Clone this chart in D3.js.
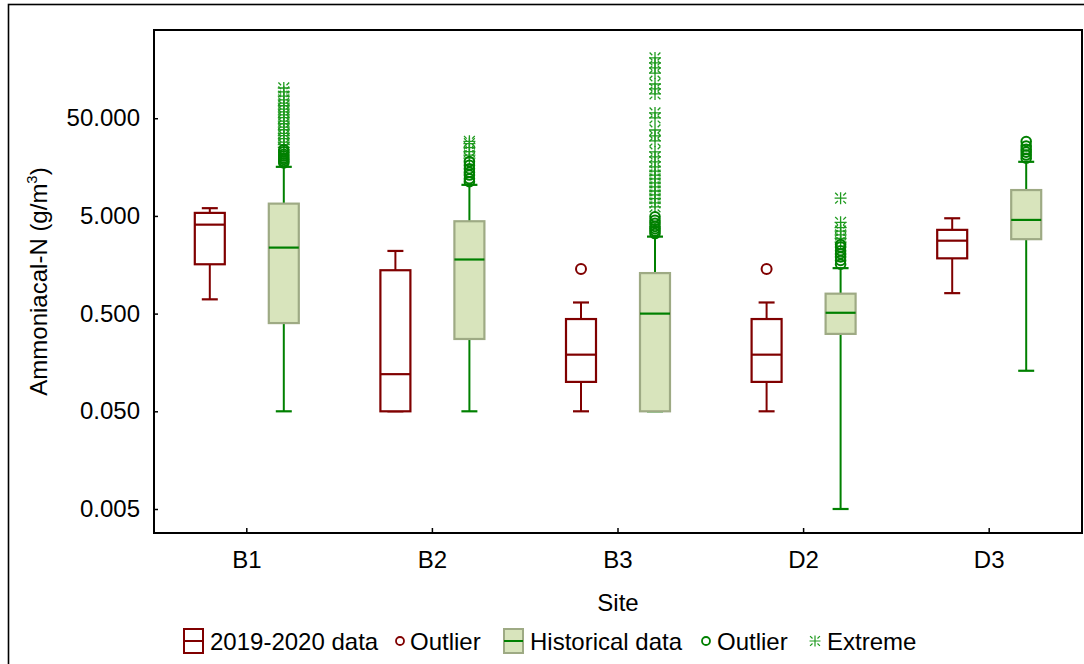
<!DOCTYPE html>
<html>
<head>
<meta charset="utf-8">
<script src="https://cdn.jsdelivr.net/npm/d3@7"></script>
<style>
  body { margin: 0; background: #fff; }
  svg { display: block; font-family: Arial, "Liberation Sans", sans-serif; }
</style>
</head>
<body>
<svg id="chart" width="1084" height="664"></svg>
<script>
// Sites along the x axis
const sites = ["B1", "B2", "B3", "D2", "D3"];
const yTicks = [0.005, 0.05, 0.5, 5, 50];

// 2019-2020 data: whisker low, quartiles, median, whisker high (g/m3)
const recentLow    = [0.70, 0.05, 0.05, 0.05, 0.81];
const recentQ1     = [1.60, 0.05, 0.10, 0.10, 1.84];
const recentMedian = [4.07, 0.12, 0.19, 0.19, 2.79];
const recentQ3     = [5.37, 1.39, 0.44, 0.44, 3.60];
const recentHigh   = [6.00, 2.19, 0.65, 0.65, 4.73];
const recentOutliers = [[], [], [1.43], [1.43], []];

// Historical data
const histLow    = [0.05, 0.05, 0.05, 0.005, 0.13];
const histQ1     = [0.40, 0.275, 0.05, 0.31, 2.89];
const histMedian = [2.37, 1.79, 0.50, 0.51, 4.55];
const histQ3     = [6.68, 4.41, 1.30, 0.80, 9.20];
const histHigh   = [15.9, 10.4, 3.07, 1.46, 17.9];
const histOutliers = [
  [17.4, 18.1, 18.9, 19.6, 20.5, 21.4, 22.6, 23.7],
  [11.2, 12.0, 13.1, 14.0, 15.2, 16.5, 18.0],
  [3.3, 3.5, 3.7, 3.9, 4.2, 4.5, 4.9],
  [1.6, 1.75, 1.9, 2.05, 2.2, 2.4, 2.55],
  [19.5, 21.0, 22.5, 24.0, 26.0, 28.9]
];
const histExtremes = [
  [25.1, 26.9, 28.4, 30.9, 33.2, 35.0, 38.1, 40.5, 43.9, 46.8, 50.6, 54.1, 58.2, 62.0, 67.1, 71.5, 77.2, 84.0, 93.1, 102],
  [19.5, 21.0, 22.8, 25.0, 27.5, 29.0],
  [6.2, 6.8, 7.5, 8.2, 9.0, 9.9, 10.9, 12.0, 13.1, 14.4, 15.9, 17.9, 20.1, 22.6, 29.3, 33.0, 37.9, 50.4, 56.6, 88.7, 100, 112, 145, 164, 184, 207],
  [2.7, 2.95, 3.2, 3.5, 3.8, 4.3, 7.6],
  []
];

const RED = "#800000";
const GREEN = "#008000";
const STAR = "#1f9a1f";
const FILL = "#d8e4bc";
const FILL_EDGE = "#9eaa84";
const FONT = 24;

const svg = d3.select("#chart");
const frame = { left: 154, right: 1082, top: 30, bottom: 533 };

// Outer figure border
svg.append("rect")
  .attr("x", 8.5).attr("y", 4.5)
  .attr("width", 1100).attr("height", 700)
  .attr("fill", "none").attr("stroke", "#000").attr("stroke-width", 1.6);

const x = d3.scaleBand().domain(sites).range([frame.left, frame.right]);
const sub = d3.scalePoint().domain(["recent", "hist"]).range([-37, 37]);
const y = d3.scaleLog().domain([0.00284, 400]).range([frame.bottom, frame.top]);

const boxW = 30, capW = 16;

// Axes with inward ticks
const yAxis = d3.axisLeft(y).tickValues(yTicks).tickFormat(d3.format(".3f")).tickSize(-4).tickPadding(14);
const gy = svg.append("g").attr("transform", `translate(${frame.left},0)`).call(yAxis);
gy.select(".domain").remove();
gy.selectAll("line").attr("stroke", "#000").attr("stroke-width", 1.5);
gy.selectAll("text").attr("font-size", FONT).attr("fill", "#000").attr("font-family", "Arial, 'Liberation Sans', sans-serif");

const xAxis = d3.axisBottom(x).tickSize(-5).tickPadding(18);
const gx = svg.append("g").attr("transform", `translate(0,${frame.bottom})`).call(xAxis);
gx.select(".domain").remove();
gx.selectAll("line").attr("stroke", "#000").attr("stroke-width", 1.5);
gx.selectAll("text").attr("font-size", FONT).attr("fill", "#000").attr("font-family", "Arial, 'Liberation Sans', sans-serif");

// Plot frame
svg.append("rect")
  .attr("x", frame.left).attr("y", frame.top)
  .attr("width", frame.right - frame.left).attr("height", frame.bottom - frame.top)
  .attr("fill", "none").attr("stroke", "#000").attr("stroke-width", 2);

// Axis titles
const yl = svg.append("text")
  .attr("transform", `translate(47,${(frame.top + frame.bottom) / 2}) rotate(-90)`)
  .attr("text-anchor", "middle").attr("font-size", FONT).attr("fill", "#000");
yl.append("tspan").text("Ammoniacal-N (g/m");
yl.append("tspan").text("3").attr("font-size", FONT * 0.62).attr("dy", -10);
yl.append("tspan").text(")").attr("dy", 10);

svg.append("text")
  .attr("x", (frame.left + frame.right) / 2).attr("y", 611)
  .attr("text-anchor", "middle").attr("font-size", FONT).attr("fill", "#000")
  .text("Site");

// Asterisk symbol used for extreme values
function starPath(r) {
  const a = r * 0.45, b = r * 0.9;
  let p = `M0,${-r}V${r}M${-r},0H${r}`;
  [[1, 1], [1, -1], [-1, 1], [-1, -1]].forEach(([dx, dy]) => {
    p += `M${dx * a},${dy * a}L${dx * b},${dy * b}`;
  });
  return p;
}

function drawBox(g, cx, lo, q1, med, q3, hi, style) {
  g.append("line").attr("x1", cx).attr("x2", cx).attr("y1", y(lo)).attr("y2", y(q1))
    .attr("stroke", style.whisker).attr("stroke-width", 2);
  g.append("line").attr("x1", cx).attr("x2", cx).attr("y1", y(q3)).attr("y2", y(hi))
    .attr("stroke", style.whisker).attr("stroke-width", 2);
  [lo, hi].forEach(v => g.append("line")
    .attr("x1", cx - capW / 2).attr("x2", cx + capW / 2).attr("y1", y(v)).attr("y2", y(v))
    .attr("stroke", style.whisker).attr("stroke-width", 2.2));
  g.append("rect")
    .attr("x", cx - boxW / 2).attr("y", y(q3))
    .attr("width", boxW).attr("height", Math.max(0, y(q1) - y(q3)))
    .attr("fill", style.fill).attr("stroke", style.edge).attr("stroke-width", 2.2);
  g.append("line").attr("x1", cx - boxW / 2).attr("x2", cx + boxW / 2).attr("y1", y(med)).attr("y2", y(med))
    .attr("stroke", style.median).attr("stroke-width", 2.2);
}

const marks = svg.append("g");
sites.forEach((s, i) => {
  const c = x(s) + x.bandwidth() / 2;
  const cr = c + sub("recent");
  const ch = c + sub("hist");

  drawBox(marks, ch, histLow[i], histQ1[i], histMedian[i], histQ3[i], histHigh[i],
    { whisker: GREEN, fill: FILL, edge: FILL_EDGE, median: GREEN });
  histExtremes[i].forEach(v => marks.append("path")
    .attr("d", starPath(6)).attr("transform", `translate(${ch},${y(v)})`)
    .attr("fill", "none").attr("stroke", STAR).attr("stroke-width", 1.3));
  histOutliers[i].forEach(v => marks.append("circle")
    .attr("cx", ch).attr("cy", y(v)).attr("r", 4.8)
    .attr("fill", "none").attr("stroke", GREEN).attr("stroke-width", 2));

  drawBox(marks, cr, recentLow[i], recentQ1[i], recentMedian[i], recentQ3[i], recentHigh[i],
    { whisker: RED, fill: "#fff", edge: RED, median: RED });
  recentOutliers[i].forEach(v => marks.append("circle")
    .attr("cx", cr).attr("cy", y(v)).attr("r", 5)
    .attr("fill", "none").attr("stroke", RED).attr("stroke-width", 2));
});

// Legend row
const legend = svg.append("g").attr("transform", "translate(0,641)");
function legendText(tx, t) {
  legend.append("text").attr("x", tx).attr("y", 8.5)
    .attr("font-size", FONT).attr("fill", "#000").text(t);
}
function boxSymbol(lx, edge, fill, med) {
  legend.append("rect").attr("x", lx).attr("y", -12).attr("width", 19).attr("height", 24)
    .attr("fill", fill).attr("stroke", edge).attr("stroke-width", 2);
  legend.append("line").attr("x1", lx).attr("x2", lx + 19).attr("y1", 0).attr("y2", 0)
    .attr("stroke", med).attr("stroke-width", 2);
}
boxSymbol(184, RED, "#fff", RED);
legendText(210, "2019-2020 data");
legend.append("circle").attr("cx", 400).attr("cy", 0).attr("r", 4).attr("fill", "none").attr("stroke", RED).attr("stroke-width", 1.8);
legendText(410, "Outlier");
boxSymbol(504, FILL_EDGE, FILL, GREEN);
legendText(530, "Historical data");
legend.append("circle").attr("cx", 706).attr("cy", 0).attr("r", 4).attr("fill", "none").attr("stroke", GREEN).attr("stroke-width", 1.8);
legendText(717, "Outlier");
legend.append("path").attr("d", starPath(5.5)).attr("transform", "translate(815,0)")
  .attr("fill", "none").attr("stroke", STAR).attr("stroke-width", 1.2);
legendText(827, "Extreme");
</script>
</body>
</html>
